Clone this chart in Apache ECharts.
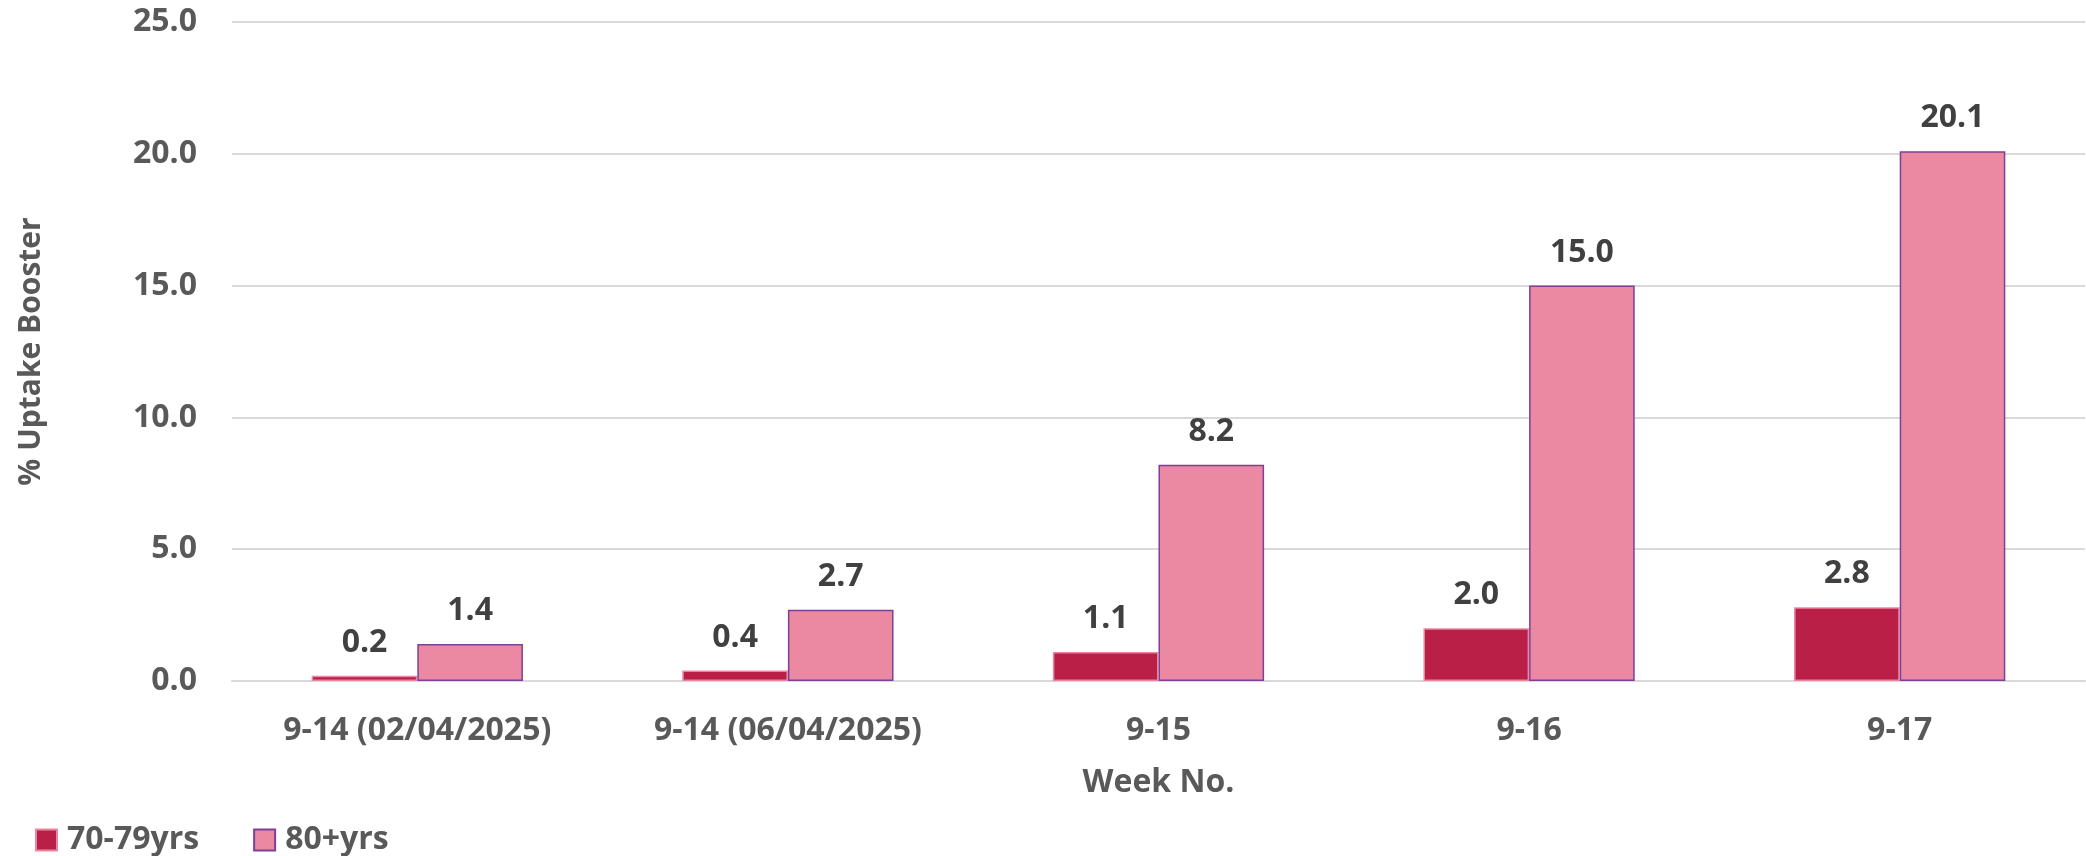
<!DOCTYPE html>
<html>
<head>
<meta charset="utf-8">
<script src="https://cdn.jsdelivr.net/npm/echarts@6/dist/echarts.min.js"></script>
<style>
html,body{margin:0;padding:0;background:#fff;}
#chart{width:2086px;height:856px;}
</style>
</head>
<body>
<div id="chart"></div>
<script>
const categories = ["9-14 (02/04/2025)", "9-14 (06/04/2025)", "9-15", "9-16", "9-17"];
const seriesNames = ["70-79yrs", "80+yrs"];
const values7079 = [0.2, 0.4, 1.1, 2.0, 2.8];
const values80plus = [1.4, 2.7, 8.2, 15.0, 20.1];
const yTicks = { min: 0, max: 25, interval: 5 };

const FONT = "'Open Sans', 'Noto Sans', sans-serif";
const chart = echarts.init(document.getElementById('chart'));
const labelStyle = {
  show: true, position: 'top', distance: 17,
  fontFamily: FONT, fontWeight: 'bold', fontSize: 32, lineHeight: 32,
  color: '#404040',
  formatter: p => p.value.toFixed(1)
};
chart.setOption({
  animation: false,
  backgroundColor: '#ffffff',
  grid: { left: 232, right: 1, top: 22, bottom: 175, containLabel: false },
  legend: {
    left: 30, top: 819,
    itemWidth: 21, itemHeight: 21, itemGap: 54,
    icon: 'rect',
    textStyle: { fontFamily: FONT, fontWeight: 'bold', fontSize: 32, color: '#595959', padding: [0, 0, 0, 5] },
    data: seriesNames
  },
  xAxis: {
    type: 'category',
    data: categories,
    name: 'Week No.',
    nameLocation: 'middle',
    nameGap: 86,
    nameTextStyle: { fontFamily: FONT, fontWeight: 'bold', fontSize: 32, color: '#595959' },
    axisLine: { show: true, lineStyle: { color: '#D9D9D9', width: 2 } },
    axisTick: { show: false },
    axisLabel: { fontFamily: FONT, fontWeight: 'bold', fontSize: 32, color: '#595959', margin: 34, interval: 0 }
  },
  yAxis: {
    type: 'value',
    min: yTicks.min, max: yTicks.max, interval: yTicks.interval,
    name: '% Uptake Booster',
    nameLocation: 'middle',
    nameGap: 186,
    nameRotate: 90,
    nameTextStyle: { fontFamily: FONT, fontWeight: 'bold', fontSize: 30, color: '#595959' },
    axisLine: { show: false },
    axisTick: { show: false },
    splitLine: { lineStyle: { color: '#D9D9D9', width: 2 } },
    axisLabel: { fontFamily: FONT, fontWeight: 'bold', fontSize: 32, color: '#595959', margin: 35, formatter: v => v.toFixed(1) }
  },
  series: [
    {
      name: seriesNames[0], type: 'bar', data: values7079,
      barWidth: '28.5%', barGap: '0%',
      itemStyle: { color: '#B91F47', borderColor: '#E987A0', borderWidth: 1.5 },
      label: labelStyle
    },
    {
      name: seriesNames[1], type: 'bar', data: values80plus,
      barWidth: '28.5%', barGap: '0%',
      itemStyle: { color: '#EA89A1', borderColor: '#7E3F98', borderWidth: 1.5 },
      label: labelStyle
    }
  ]
});
</script>
</body>
</html>
